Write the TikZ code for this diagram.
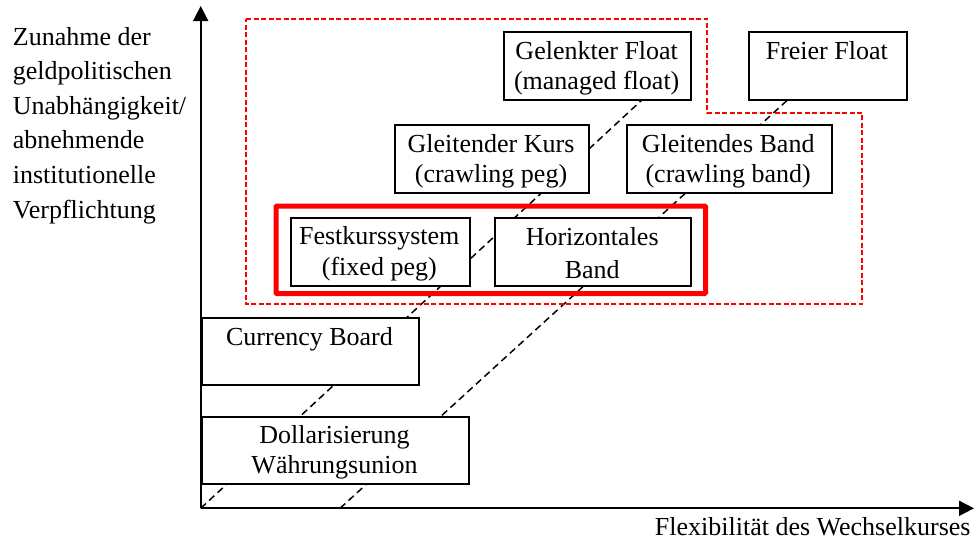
\documentclass[tikz,border=0pt]{standalone}
\usepackage{fontspec}
\setmainfont{Liberation Serif}
\usetikzlibrary{arrows.meta}
\begin{document}
\begin{tikzpicture}[x=1pt,y=-1pt,
  boxstyle/.style={draw=black,line width=1.8pt,fill=white,inner sep=0pt,anchor=north west},
  txt/.style={inner sep=0pt,anchor=base,font=\fontsize{26}{30}\selectfont},
  ltxt/.style={inner sep=0pt,anchor=base west,font=\fontsize{26}{30}\selectfont},
  guide/.style={draw=black,line width=1.5pt,dash pattern=on 7pt off 4.5pt},
  axis/.style={draw=black,line width=1.8pt,-{Triangle[length=15pt,width=15pt]}}]
\useasboundingbox (0,0) rectangle (974,539);
% coordinates
\coordinate (o) at (200.7,508.3);
\coordinate (xa) at (340,508.3);
\coordinate (ytip) at (200.7,6);
\coordinate (xtip) at (974,508.3);
\coordinate (l1end) at (643.3,98.7);
\coordinate (l2end) at (789,98.7);
% guide lines
\draw[guide] (o) -- (l1end);
\draw[guide] (xa) -- (l2end);
% red dashed region
\draw[red,line width=1.7pt,dash pattern=on 5pt off 2.5pt]
  (246,19) -- (707.3,19) -- (707.3,112.7) -- (862.3,112.7) -- (862.3,304.3) -- (246,304.3) -- cycle;
% boxes
\node[boxstyle,minimum width=186.7pt,minimum height=67.7pt] (gel) at (503.3,31) {};
\node[boxstyle,minimum width=158.3pt,minimum height=67.7pt] (frei) at (747.7,31) {};
\node[boxstyle,minimum width=193.7pt,minimum height=67.7pt] (gk) at (394.3,124.2) {};
\node[boxstyle,minimum width=205pt,minimum height=68pt] (gb) at (625.7,124.3) {};
\node[boxstyle,minimum width=178.7pt,minimum height=67.5pt] (fest) at (290,217.3) {};
\node[boxstyle,minimum width=195.7pt,minimum height=67.7pt] (hor) at (494.3,217.3) {};
\node[boxstyle,minimum width=217.6pt,minimum height=67pt] (cb) at (200.7,317.3) {};
\node[boxstyle,minimum width=267.6pt,minimum height=66.7pt] (dol) at (200.7,416) {};
% thick red box
\draw[red,line width=5pt,rounded corners=1pt] (276,206) rectangle (705.5,293.5);
% axes
\draw[axis] (o) -- (ytip);
\draw[axis] (o) -- (xtip);
% texts
\node[txt] (t1) at (596.7,59.5) {Gelenkter Float};
\node[txt] (t2) at (596.7,89.5) {(managed float)};
\node[txt] (t3) at (826.8,59.5) {Freier Float};
\node[txt] (t4) at (491,152) {Gleitender Kurs};
\node[txt] (t5) at (491,182) {(crawling peg)};
\node[txt] (t6) at (728.2,152) {Gleitendes Band};
\node[txt] (t7) at (728.2,182) {(crawling band)};
\node[txt] (t8) at (379.3,244.5) {Festkurssystem};
\node[txt] (t9) at (379.3,275) {(fixed peg)};
\node[txt] (t10) at (592.2,245) {Horizontales};
\node[txt] (t11) at (592.2,278.5) {Band};
\node[txt] (t12) at (309.5,345) {Currency Board};
\node[txt] (t13) at (334.5,443) {Dollarisierung};
\node[txt] (t14) at (334.5,473) {Währungsunion};
% left label
\node[ltxt] (y1) at (12.7,45) {Zunahme der};
\node[ltxt] (y2) at (12.7,79.6) {geldpolitischen};
\node[ltxt] (y3) at (12.7,114.2) {Unabhängigkeit/};
\node[ltxt] (y4) at (12.7,148.8) {abnehmende};
\node[ltxt] (y5) at (12.7,183.4) {institutionelle};
\node[ltxt] (y6) at (12.7,218) {Verpflichtung};
% x label
\node[txt,anchor=base east] (xl) at (970.7,535) {Flexibilität des Wechselkurses};
\end{tikzpicture}
\end{document}
